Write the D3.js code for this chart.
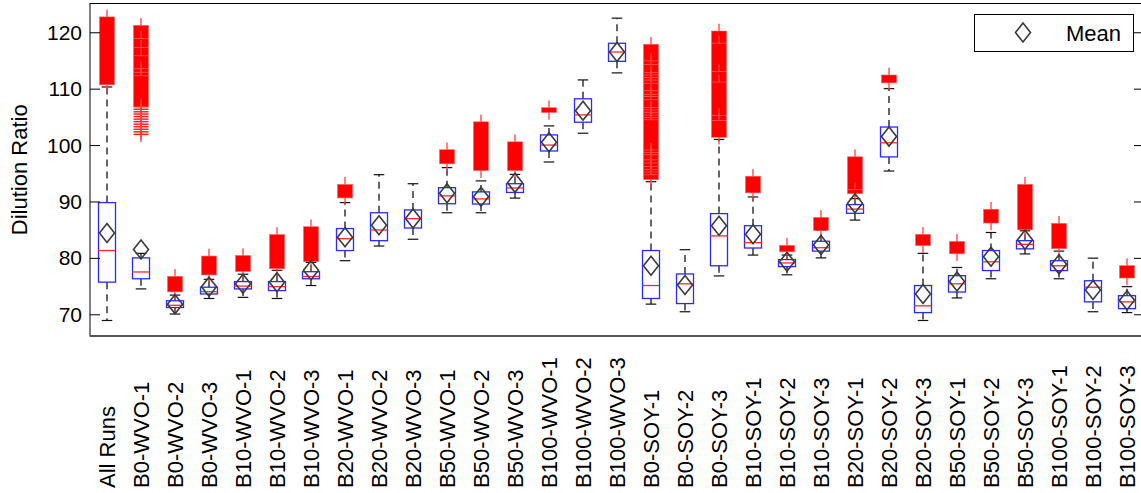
<!DOCTYPE html>
<html>
<head>
<meta charset="utf-8">
<script src="https://cdn.jsdelivr.net/npm/d3@7"></script>
<style>
  html, body { margin: 0; padding: 0; background: #fff; }
  svg { display: block; }
  text { font-family: "Liberation Sans", Arial, sans-serif; fill: #000; }
</style>
</head>
<body>
<svg id="chart" width="1141" height="493"></svg>
<script>
const categories = ["All Runs","B0-WVO-1","B0-WVO-2","B0-WVO-3","B10-WVO-1","B10-WVO-2","B10-WVO-3",
  "B20-WVO-1","B20-WVO-2","B20-WVO-3","B50-WVO-1","B50-WVO-2","B50-WVO-3","B100-WVO-1","B100-WVO-2","B100-WVO-3",
  "B0-SOY-1","B0-SOY-2","B0-SOY-3","B10-SOY-1","B10-SOY-2","B10-SOY-3","B20-SOY-1","B20-SOY-2","B20-SOY-3",
  "B50-SOY-1","B50-SOY-2","B50-SOY-3","B100-SOY-1","B100-SOY-2","B100-SOY-3"];

const whiskerLow  = [68.9,74.5,70.05,72.8,73.0,72.8,75.1,79.5,82.1,83.3,88.0,88.0,90.6,97.0,102.1,112.8,
  71.8,70.45,76.8,80.5,77.0,80.0,86.7,95.4,68.9,72.9,76.3,80.7,76.3,70.45,70.3];
const q1Values    = [75.7,76.3,71.2,73.6,74.5,74.2,76.3,81.3,83.05,85.3,89.6,89.55,91.6,98.95,104.05,114.85,
  72.8,71.9,78.6,81.75,78.45,81.2,87.9,97.9,70.3,73.95,77.75,81.6,77.75,72.2,71.0];
const medianValues= [81.3,77.5,71.6,74.0,75.0,74.9,76.7,83.4,84.95,86.95,91.0,90.45,92.4,100.0,105.35,116.5,
  75.1,75.4,83.9,82.7,79.1,81.8,88.65,100.4,71.5,75.4,79.3,82.4,78.6,74.8,72.2];
const q3Values    = [89.8,80.0,72.4,74.8,75.8,75.8,77.55,85.2,88.0,88.5,92.45,91.7,93.15,101.8,108.2,118.05,
  81.3,77.15,87.85,85.7,79.7,82.95,89.45,103.2,75.1,76.85,81.3,83.05,79.5,75.95,73.3];
const whiskerHigh = [110.3,80.8,73.4,76.2,77.1,77.8,79.2,89.8,94.75,93.15,96.0,93.65,94.8,103.4,111.55,122.5,
  93.5,81.45,101.0,90.8,80.5,84.9,90.5,110.0,80.8,78.3,84.5,84.8,81.2,79.95,74.9];
const meanValues  = [84.4,81.5,71.8,74.9,75.4,75.7,77.8,83.65,85.8,87.0,91.45,90.85,93.3,100.5,106.1,116.5,
  78.6,75.2,85.7,84.2,79.3,82.3,89.7,101.5,73.6,75.8,80.2,83.2,78.85,74.3,72.5];

// dense outlier clusters [high, low] per category (overlapping '+' markers)
const outlierBands = [
  [[122.6,110.8]],
  [[121.1,119.0],[118.8,117.4],[117.2,115.9],[115.7,113.6],[113.4,113.0],[112.8,112.35],[112.15,107.0]],
  [[76.6,74.1]],
  [[80.2,77.1]],
  [[80.3,77.7]],
  [[84.0,78.2]],
  [[85.4,79.45]],
  [[92.9,90.75]],
  [],
  [],
  [[99.05,96.8]],
  [[104.0,95.6]],
  [[100.45,95.6]],
  [[106.5,105.9]],
  [],
  [],
  [[117.75,115.0],[114.8,114.4],[114.2,112.9],[112.7,112.5],[112.3,112.05],[111.85,111.6],[111.4,111.05],
   [110.85,109.7],[109.5,109.1],[108.9,108.7],[108.5,108.1],[107.9,106.7],[106.5,106.3],[106.1,105.9],
   [105.7,105.4],[105.2,105.0],[104.8,104.55],[104.35,99.2],[99.0,98.8],[98.6,98.35],[98.15,97.45],
   [97.25,96.9],[96.7,96.3],[96.1,95.7],[95.5,95.3],[95.1,94.8],[94.6,94.0]],
  [],
  [[120.1,118.15],[117.95,113.1],[112.9,111.25],[111.05,105.3],[105.1,104.4],[104.2,101.5]],
  [[94.35,91.65]],
  [[82.1,81.2]],
  [[87.05,85.0]],
  [[97.8,92.15],[91.95,91.5]],
  [[112.3,111.15]],
  [[84.05,82.3]],
  [[82.8,80.85]],
  [[88.5,86.3]],
  [[92.9,85.1]],
  [[86.0,81.75]],
  [],
  [[78.5,76.55]]
];
// individual (separated) outliers
const outlierPoints = [
  [], [106.8,106.35,105.9,105.5,105.05,104.6,104.15,103.7,103.25,102.8,102.35,101.9],
  [],[],[],[],[],[],[],[],[],[],[],[],[],[],[],[],[],[],[],[],[],[],[],[],[],[],[],[],[]
];

const yTicks = [70, 80, 90, 100, 110, 120];
const yLabel = "Dilution Ratio";
const legendLabel = "Mean";

const svg = d3.select("#chart");
const plotLeft = 90, plotRight = 1144, plotTop = 3.5, plotBottom = 336;

const x = d3.scalePoint().domain(categories).range([plotLeft, plotRight]).padding(0.5);
const step = x.step();
const y = d3.scaleLinear().domain([66.15, 125.1]).range([plotBottom, plotTop]);

const boxHalf = step * 0.25;
const capHalf = 5.3;
const plusHalfW = 7.5, plusHalfH = 8;

const g = svg.append("g");

categories.forEach((c, i) => {
  const cx = x(c);
  const grp = g.append("g");
  grp.append("line").attr("x1", cx).attr("x2", cx)
    .attr("y1", y(q3Values[i])).attr("y2", y(whiskerHigh[i]))
    .attr("stroke", "#000").attr("stroke-width", 1.2).attr("stroke-dasharray", "7,5");
  grp.append("line").attr("x1", cx).attr("x2", cx)
    .attr("y1", y(q1Values[i])).attr("y2", y(whiskerLow[i]))
    .attr("stroke", "#000").attr("stroke-width", 1.2).attr("stroke-dasharray", "7,5");
  [whiskerHigh[i], whiskerLow[i]].forEach(v => {
    grp.append("line").attr("x1", cx - capHalf).attr("x2", cx + capHalf)
      .attr("y1", y(v)).attr("y2", y(v)).attr("stroke", "#111").attr("stroke-width", 1.2);
  });
  grp.append("rect").attr("x", cx - boxHalf).attr("width", boxHalf * 2)
    .attr("y", y(q3Values[i])).attr("height", y(q1Values[i]) - y(q3Values[i]))
    .attr("fill", "none").attr("stroke", "#2a2aff").attr("stroke-width", 1.3);
  grp.append("line").attr("x1", cx - boxHalf).attr("x2", cx + boxHalf)
    .attr("y1", y(medianValues[i])).attr("y2", y(medianValues[i]))
    .attr("stroke", "#ff2a2a").attr("stroke-width", 1.3);
  outlierBands[i].forEach(([hi, lo]) => {
    grp.append("line").attr("x1", cx).attr("x2", cx)
      .attr("y1", y(hi) - plusHalfH).attr("y2", y(lo) + plusHalfH)
      .attr("stroke", "#ff4040").attr("stroke-width", 1.3);
    grp.append("rect").attr("x", cx - plusHalfW).attr("width", plusHalfW * 2)
      .attr("y", y(hi) - 0.7).attr("height", y(lo) - y(hi) + 1.4)
      .attr("fill", "#ff0000").attr("stroke", "#ff6666").attr("stroke-width", 0.6);
  });
  outlierPoints[i].forEach(v => {
    grp.append("line").attr("x1", cx).attr("x2", cx)
      .attr("y1", y(v) - plusHalfH).attr("y2", y(v) + plusHalfH)
      .attr("stroke", "#ff4040").attr("stroke-width", 1.3);
    grp.append("line").attr("x1", cx - plusHalfW).attr("x2", cx + plusHalfW)
      .attr("y1", y(v)).attr("y2", y(v))
      .attr("stroke", "#ff2020").attr("stroke-width", 1.5);
  });
});

const diamond = (cx, cy) => `M${cx},${cy - 9.5}L${cx + 7.5},${cy}L${cx},${cy + 9.5}L${cx - 7.5},${cy}Z`;
g.selectAll("path.mean").data(categories).join("path")
  .attr("class", "mean")
  .attr("d", (c, i) => diamond(x(c), y(meanValues[i])))
  .attr("fill", "none").attr("stroke", "#3a3a3a").attr("stroke-width", 1.6);

svg.append("rect").attr("x", plotLeft).attr("y", plotTop).attr("width", plotRight - plotLeft).attr("height", plotBottom - plotTop)
  .attr("fill", "none").attr("stroke", "#000").attr("stroke-width", 1);
svg.append("line").attr("x1", plotLeft).attr("x2", plotRight).attr("y1", plotBottom).attr("y2", plotBottom)
  .attr("stroke", "#555").attr("stroke-width", 2);

const yAxisL = d3.axisRight(y).tickValues(yTicks).tickSize(10).tickFormat("");
svg.append("g").attr("transform", `translate(${plotLeft},0)`).call(yAxisL)
  .call(s => s.select(".domain").remove())
  .call(s => s.selectAll(".tick line").attr("stroke", "#000"));
const yAxisR = d3.axisLeft(y).tickValues(yTicks).tickSize(10).tickFormat("");
svg.append("g").attr("transform", `translate(${plotRight},0)`).call(yAxisR)
  .call(s => s.select(".domain").remove())
  .call(s => s.selectAll(".tick line").attr("stroke", "#000"));

svg.append("g").selectAll("text").data(yTicks).join("text")
  .attr("x", plotLeft - 8).attr("y", d => y(d)).attr("dy", "0.36em")
  .attr("text-anchor", "end").attr("font-size", "21px").text(d => d);

svg.append("text").attr("transform", `translate(27,${(plotTop + plotBottom) / 2}) rotate(-90)`)
  .attr("text-anchor", "middle").attr("font-size", "22px").text(yLabel);

svg.append("g").selectAll("text").data(categories).join("text")
  .attr("transform", c => `translate(${x(c)},488) rotate(-90)`)
  .attr("dy", "0.36em").attr("text-anchor", "start").attr("font-size", "22px").text(c => c);

const lg = svg.append("g");
lg.append("rect").attr("x", 974.5).attr("y", 14.5).attr("width", 159).attr("height", 37)
  .attr("fill", "#fff").attr("stroke", "#000").attr("stroke-width", 1);
lg.append("path").attr("d", diamond(1023, 32.5)).attr("fill", "none")
  .attr("stroke", "#3a3a3a").attr("stroke-width", 1.6);
lg.append("text").attr("x", 1066).attr("y", 40.5).attr("font-size", "22px").text(legendLabel);
</script>
</body>
</html>
